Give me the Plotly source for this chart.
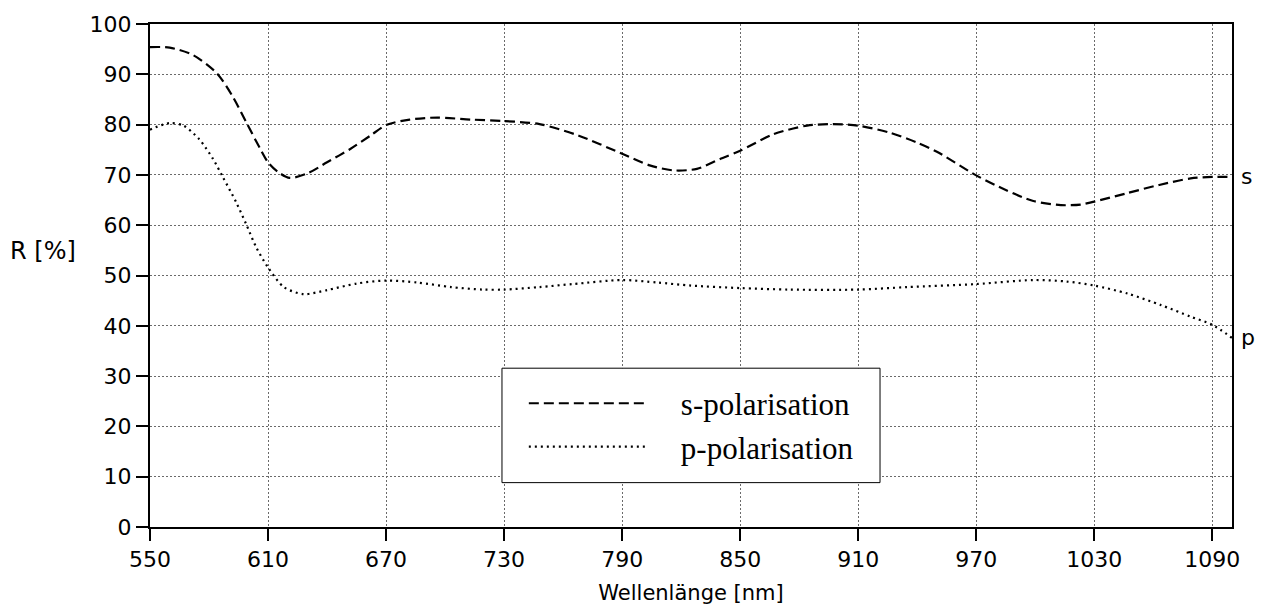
import plotly.graph_objects as go

# wavelength (nm) and reflectance (%)
s_wl = [550, 560, 572, 584, 592, 599, 606, 610, 615, 621, 630, 640, 652, 662, 670, 682, 696, 713, 730,
        748, 768, 790, 804, 816, 828, 840, 850, 867, 884, 897, 910, 926, 940, 950, 970, 985, 999, 1013,
        1023, 1030, 1046, 1063, 1079, 1090, 1100]
s_R = [95.4, 95.3, 93.8, 90.2, 85.6, 80.4, 75.2, 72.5, 70.6, 69.4, 70.3, 72.5, 75.2, 77.8, 79.9, 81.0, 81.4,
       81.0, 80.7, 80.1, 77.8, 74.2, 71.9, 70.9, 71.2, 73.2, 74.8, 78.1, 79.8, 80.1, 79.8, 78.4, 76.4, 74.6,
       69.9, 67.0, 64.8, 64.0, 64.1, 64.7, 66.3, 68.0, 69.3, 69.6, 69.6]

p_wl = [550, 560, 567, 575, 582, 587, 594, 599, 604, 610, 618, 628, 640, 655, 670, 686, 703, 719, 730,
        748, 765, 790, 808, 825, 850, 875, 910, 935, 970, 999, 1016, 1030, 1047, 1064, 1079, 1090, 1100]
p_R = [79.0, 80.3, 79.8, 77.1, 73.2, 69.6, 64.4, 60.1, 55.6, 51.6, 47.7, 46.3, 47.1, 48.4, 49.0, 48.6, 47.7,
       47.2, 47.2, 47.7, 48.3, 49.1, 48.6, 48.0, 47.5, 47.2, 47.2, 47.7, 48.3, 49.1, 48.8, 48.0, 46.4, 44.1,
       41.8, 40.2, 37.6]

x_ticks = [550, 610, 670, 730, 790, 850, 910, 970, 1030, 1090]
y_ticks = [0, 10, 20, 30, 40, 50, 60, 70, 80, 90, 100]

s_name = "s-polarisation"
p_name = "p-polarisation"
x_title = "Wellenlänge [nm]"
y_title = "R [%]"

tick_font = dict(family="DejaVu Sans", size=22, color="black")
pad = "\u00a0" * 4

fig = go.Figure()
fig.add_trace(go.Scatter(x=s_wl, y=s_R, mode="lines", name=pad + s_name,
                         line=dict(color="black", width=2.2, dash="10px,5px", shape="spline", smoothing=0.8)))
fig.add_trace(go.Scatter(x=p_wl, y=p_R, mode="lines", name=pad + p_name,
                         line=dict(color="black", width=2.2, dash="2px,4px", shape="spline", smoothing=0.8)))

fig.update_layout(
    width=1262, height=613,
    margin=dict(l=150, r=30, t=20, b=83),
    paper_bgcolor="white", plot_bgcolor="white",
    showlegend=True,
    legend=dict(x=0.3455, y=0.299, xanchor="left", yanchor="top",
                bgcolor="rgba(0,0,0,0)", borderwidth=0,
                font=dict(family="Liberation Serif", size=31, color="black"),
                itemwidth=116, tracegroupgap=0),
    shapes=[dict(type="rect", xref="paper", yref="paper",
                 x0=0.3253, x1=0.6747, y0=0.0882, y1=0.3157,
                 line=dict(color="black", width=1), fillcolor="white", layer="above")],
    annotations=[
        dict(x=s_wl[-1], y=s_R[-1], xref="x", yref="y", text="s", showarrow=False,
             xanchor="left", xshift=7, font=tick_font),
        dict(x=p_wl[-1], y=p_R[-1], xref="x", yref="y", text="p", showarrow=False,
             xanchor="left", xshift=7, font=tick_font),
        dict(x=-0.131, y=0.549, xref="paper", yref="paper", text=y_title, showarrow=False,
             xanchor="left", yanchor="middle", font=dict(family="DejaVu Sans", size=24, color="black")),
    ],
)

fig.update_xaxes(range=[550, 1100], tickvals=x_ticks, ticktext=[str(v) for v in x_ticks],
                 showline=True, linecolor="black", linewidth=2, mirror=True,
                 ticks="outside", ticklen=12, tickwidth=2, tickcolor="black",
                 showgrid=True, gridcolor="#6a6a6a", gridwidth=1, griddash="2px,2px",
                 zeroline=False, tickfont=tick_font,
                 title=dict(text=x_title, font=dict(family="DejaVu Sans", size=21, color="black"), standoff=14))
fig.update_yaxes(range=[0, 100], tickvals=y_ticks, ticktext=[str(v) for v in y_ticks],
                 showline=True, linecolor="black", linewidth=2, mirror=True,
                 ticks="outside", ticklen=12, tickwidth=2, tickcolor="black",
                 showgrid=True, gridcolor="#6a6a6a", gridwidth=1, griddash="2px,2px",
                 zeroline=False, tickfont=tick_font)

fig.write_html("out.html", config={"displayModeBar": False},
               post_script="document.body.style.margin='0px';")
